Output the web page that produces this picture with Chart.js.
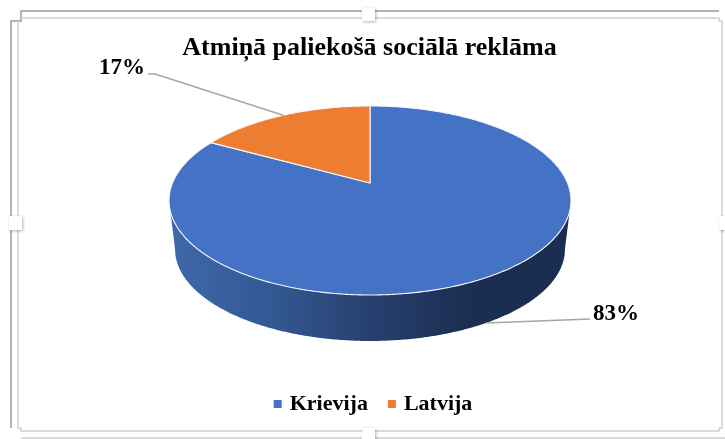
<!DOCTYPE html>
<html><head><meta charset="utf-8">
<style>html,body{margin:0;padding:0;background:#fff}canvas{display:block}</style>
<script src="https://cdn.jsdelivr.net/npm/chart.js@4"></script>
</head><body><canvas id="c" width="725" height="439"></canvas>
<script>
const titleText = 'Atmiņā paliekošā sociālā reklāma';
const categories = ['Krievija', 'Latvija'];
const shares = [83, 17];
const sliceColors = ['#4472c4', '#ed7d31'];

const FONT = '"Liberation Serif"';
// Perspective view of the disc: unit-circle point (u,v), v>0 = far side.
const view = {cx: 370, cy: 183, K: 197.5, b: -57.4, c: 0.185, shrink: 0.97, drop: 54.85};
function project(a, lower) {
  const u = Math.cos(a), v = -Math.sin(a), w = 1 + view.c * v;
  let x = view.cx + view.K * u / w, y = (view.cy + view.b * v) / w;
  if (lower) { x = view.cx + (x - view.cx) * view.shrink; y = y * view.shrink + view.drop; }
  return [x, y];
}
function traceRim(ctx, a0, a1, lower, first) {
  const n = Math.max(2, Math.ceil(Math.abs(a1 - a0) / 0.01));
  for (let i = 0; i <= n; i++) {
    const p = project(a0 + (a1 - a0) * i / n, lower);
    if (i === 0 && first) ctx.moveTo(p[0], p[1]); else ctx.lineTo(p[0], p[1]);
  }
}
function poly(ctx, pts, color, width) {
  ctx.strokeStyle = color; ctx.lineWidth = width;
  ctx.beginPath();
  pts.forEach((p, i) => i ? ctx.lineTo(p[0], p[1]) : ctx.moveTo(p[0], p[1]));
  ctx.stroke();
}
const pie3d = {
  id: 'pie3d',
  afterLayout(chart) {
    chart.legend.left += 5;
    chart.legend.right += 5;
  },
  beforeDraw(chart) {
    const ctx = chart.ctx;
    ctx.save();
    ctx.fillStyle = '#fff';
    ctx.fillRect(0, 0, 725, 439);
    // outer selection frame
    poly(ctx, [[11, 428], [11, 21], [21, 21], [21, 11], [719, 11]], '#b4b4b4', 2);
    poly(ctx, [[21, 438], [725, 438]], '#cfcfcf', 1.5);
    // inner selection frame
    poly(ctx, [[18, 21], [18, 428], [21, 428], [21, 431], [719, 431], [719, 428], [722, 428], [722, 21], [719, 21], [719, 18], [21, 18]], '#d0d0d0', 1.5);
    // handles
    ctx.shadowColor = 'rgba(0,0,0,0.3)'; ctx.shadowBlur = 3; ctx.shadowOffsetY = 1; ctx.shadowOffsetX = 1;
    ctx.fillStyle = '#fff';
    [[362, 8, 13, 13], [362, 428, 13, 14], [9, 216, 13, 14], [719, 216, 10, 14]].forEach(h => {
      ctx.fillRect(h[0], h[1], h[2], h[3]);
    });
    ctx.restore();
  },
  beforeDatasetsDraw(chart) {
    const ctx = chart.ctx, arcs = chart.getDatasetMeta(0).data;
    const frontA = Math.asin(view.c), frontB = Math.PI - frontA; // visible wall range
    ctx.save();
    // side wall
    arcs.forEach((el) => {
      const a0 = Math.max(el.startAngle, frontA), a1 = Math.min(el.endAngle, frontB);
      if (a1 <= a0) return;
      const g = ctx.createLinearGradient(172, 0, 470, 0);
      g.addColorStop(0, '#3f68aa');
      g.addColorStop(0.35, '#335791');
      g.addColorStop(0.68, '#263f6e');
      g.addColorStop(1, '#1b2e50');
      ctx.fillStyle = g;
      ctx.beginPath();
      traceRim(ctx, a0, a1, false, true);
      traceRim(ctx, a1, a0, true, false);
      ctx.closePath();
      ctx.fill();
    });
    // top face
    arcs.forEach((el, i) => {
      ctx.beginPath();
      ctx.moveTo(view.cx, view.cy);
      traceRim(ctx, el.startAngle, el.endAngle, false, false);
      ctx.closePath();
      ctx.fillStyle = sliceColors[i];
      ctx.fill();
      ctx.strokeStyle = '#f4f6fa';
      ctx.lineWidth = 1.1;
      ctx.lineJoin = 'round';
      ctx.stroke();
    });
    // value labels with leader lines
    ctx.font = 'bold 23px ' + FONT;
    ctx.textBaseline = 'middle';
    const total = shares.reduce((s, x) => s + x, 0);
    arcs.forEach((el, i) => {
      const mid = (el.startAngle + el.endAngle) / 2;
      const front = -Math.sin(mid) < 0;
      const p = project(mid, front);
      const txt = Math.round(shares[i] / total * 100) + '%';
      ctx.strokeStyle = '#a6a6a6';
      ctx.lineWidth = 1.4;
      ctx.beginPath();
      ctx.moveTo(p[0], p[1]);
      if (front) {
        ctx.lineTo(590, 319);
        ctx.stroke();
        ctx.textAlign = 'left'; ctx.fillStyle = '#000';
        ctx.fillText(txt, 593, 314);
      } else {
        ctx.lineTo(155, 74); ctx.lineTo(148, 74);
        ctx.stroke();
        ctx.textAlign = 'right'; ctx.fillStyle = '#000';
        ctx.fillText(txt, 145, 68);
      }
    });
    ctx.restore();
    return false;
  }
};
new Chart(document.getElementById('c'), {
  type: 'pie',
  plugins: [pie3d],
  data: { labels: categories, datasets: [{ data: shares, backgroundColor: sliceColors, borderWidth: 0 }] },
  options: {
    responsive: false,
    animation: false,
    layout: { padding: { top: 25, bottom: 14, left: 34, right: 20 } },
    plugins: {
      tooltip: { enabled: false },
      title: { display: true, text: titleText, color: '#000', align: 'center',
        font: { family: FONT, size: 26, weight: 'bold' }, padding: { top: 8, bottom: 8 } },
      legend: { position: 'bottom', labels: { usePointStyle: true, pointStyle: 'rect', boxWidth: 2, boxHeight: 8, padding: 23, color: '#000',
        font: { family: FONT, size: 22, weight: 'bold' } } }
    }
  }
});
</script></body></html>
